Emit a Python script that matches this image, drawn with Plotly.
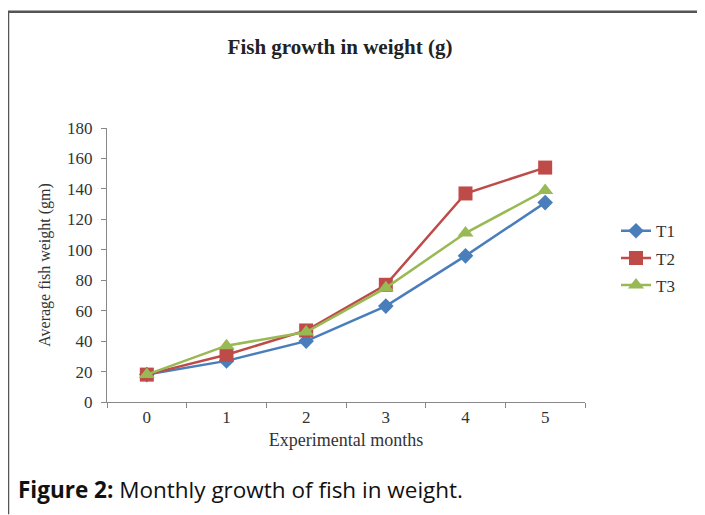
import plotly.graph_objects as go

months = ["0", "1", "2", "3", "4", "5"]
t1 = [18, 27, 40, 63, 96, 131]
t2 = [18, 31, 47, 77, 137, 154]
t3 = [18, 37, 46, 75, 111, 139]
series_names = ["T1", "T2", "T3"]
y_ticks = [0, 20, 40, 60, 80, 100, 120, 140, 160, 180]

colors = ["#4A7EBB", "#BE4B48", "#98B954"]
symbols = ["diamond", "square", "triangle-up"]
sizes = [12, 14, 14]

# page body has an 8px margin, so work in page pixels and offset
OFF = 8
PW, PH = 705, 515
W, H = PW - OFF, PH - OFF
L, R, T, B = 107 - OFF, 585 - OFF, 127.5 - OFF, 402.3 - OFF

fig = go.Figure()
for name, vals, c, s, sz in zip(series_names, [t1, t2, t3], colors, symbols, sizes):
    fig.add_trace(go.Scatter(
        x=months, y=vals, name=name, mode="lines+markers",
        legendgroup=name,
        line=dict(color=c, width=2.5),
        marker=dict(symbol=s, size=sz, color=c),
    ))

def px_x(px):
    return (px - OFF - L) / (R - L)

def px_y(py):
    return (B - (py - OFF)) / (B - T)

serif = "Liberation Serif, Times New Roman, serif"

fig.update_layout(
    width=W, height=H,
    margin=dict(l=L, r=W - R, t=T, b=H - B, pad=0),
    paper_bgcolor="white", plot_bgcolor="white",
    title=dict(text="<b>Fish growth in weight (g)</b>", x=(340 - OFF) / W, xanchor="center",
               y=1 - (47 - OFF) / H, yanchor="middle",
               font=dict(family=serif, size=21, color="#222")),
    xaxis=dict(type="category", range=[-0.5, 5.5], tickson="boundaries",
               ticks="outside", ticklen=5, tickcolor="#888",
               showline=True, linecolor="#888", linewidth=1,
               showgrid=False, zeroline=False,
               tickfont=dict(family=serif, size=17, color="#333"),
               title=dict(text="Experimental months", standoff=6,
                          font=dict(family=serif, size=18, color="#333"))),
    yaxis=dict(range=[0, 180], tickvals=y_ticks,
               ticks="outside", ticklen=5, tickcolor="#888",
               ticklabelstandoff=5,
               showline=True, linecolor="#888", linewidth=1,
               showgrid=False, zeroline=False,
               tickfont=dict(family=serif, size=17, color="#333"),
               title=dict(text="Average fish weight (gm)", standoff=12,
                          font=dict(family=serif, size=16, color="#333"))),
    legend=dict(x=px_x(616), y=px_y(213), xanchor="left", yanchor="top",
                font=dict(family=serif, size=17, color="#333"),
                tracegroupgap=2, traceorder="grouped",
                bgcolor="rgba(0,0,0,0)"),
    shapes=[
        dict(type="line", xref="paper", yref="paper",
             x0=px_x(8), x1=px_x(PW), y0=px_y(11), y1=px_y(11),
             line=dict(color="#555", width=2.5)),
        dict(type="line", xref="paper", yref="paper",
             x0=px_x(8), x1=px_x(8), y0=px_y(11), y1=px_y(PH),
             line=dict(color="#555", width=2.5)),
    ],
    annotations=[
        dict(text="<b>Figure 2:</b> Monthly growth of fish in weight.",
             xref="paper", yref="paper", x=px_x(16), y=px_y(490),
             xanchor="left", yanchor="middle", showarrow=False,
             font=dict(family="Open Sans, Liberation Sans, sans-serif", size=22.5, color="#111")),
    ],
)

fig.write_html("out.html")
